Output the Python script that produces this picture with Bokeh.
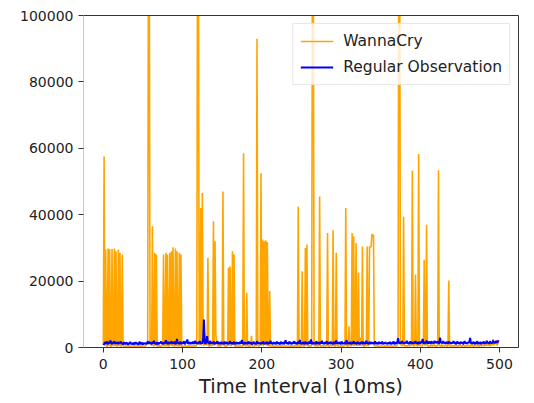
from bokeh.plotting import figure
from bokeh.models import Range1d, LinearAxis, FixedTicker, BasicTickFormatter, Legend, LegendItem
from bokeh.embed import file_html
from bokeh.resources import INLINE

# ---- data ----
wannacry = [
    800, 57500, 500, 29500, 400, 300, 29800, 500, 29600, 400, 300, 29700, 500, 600, 29800, 400, 29000, 300, 500, 29500,
    400, 28500, 300, 500, 28000, 600, 300, 200, 400, 500, 300, 200, 600, 400, 300, 500, 200, 400, 300, 600,
    400, 300, 500, 200, 400, 300, 600, 200, 300, 500, 400, 300, 200, 500, 600, 1200, 800, 130000, 115000, 1500,
    1000, 500, 36500, 800, 300, 28500, 500, 28000, 400, 300, 600, 200, 500, 300, 400, 600, 28000, 600, 400, 28500,
    300, 28000, 500, 400, 28500, 500, 29000, 400, 30200, 300, 500, 29800, 400, 29000, 300, 500, 28500, 300, 28000, 200,
    500, 300, 400, 600, 300, 200, 500, 400, 300, 600, 400, 200, 500, 300, 400, 600, 300, 500, 1500, 140000,
    120000, 1000, 800, 42000, 600, 46500, 2000, 500, 4000, 800, 3000, 600, 27000, 500, 400, 1000, 600, 500, 800, 38000,
    500, 32000, 4000, 2000, 600, 400, 1500, 300, 500, 600, 800, 47000, 1000, 500, 400, 300, 600, 500, 24000, 500,
    24500, 400, 1000, 29000, 600, 28000, 400, 300, 500, 600, 400, 300, 500, 200, 400, 600, 300, 58500, 500, 1000,
    300, 16500, 400, 600, 300, 500, 400, 3500, 600, 400, 300, 500, 1500, 400, 93000, 600, 500, 400, 800, 52500,
    600, 32500, 400, 32000, 1000, 32300, 500, 31800, 600, 400, 17000, 500, 300, 400, 600, 200, 500, 300, 400, 600,
    300, 500, 400, 200, 600, 300, 500, 400, 300, 200, 500, 600, 400, 300, 500, 200, 400, 600, 300, 500,
    400, 300, 600, 500, 300, 400, 42500, 400, 500, 200, 800, 23000, 400, 600, 300, 30000, 500, 31000, 400, 600,
    300, 500, 400, 800, 140000, 125000, 600, 500, 400, 2000, 300, 600, 500, 45500, 400, 300, 500, 600, 400, 300,
    500, 400, 600, 34500, 400, 300, 500, 800, 400, 600, 35300, 500, 400, 300, 28500, 500, 600, 400, 300, 500,
    400, 600, 300, 500, 400, 800, 42000, 500, 400, 300, 6400, 500, 600, 400, 34500, 500, 33500, 400, 2000, 31500,
    600, 500, 22500, 500, 800, 3000, 400, 30400, 500, 400, 500, 2000, 400, 30400, 500, 600, 30400, 30200, 30400, 34200,
    33500, 34000, 500, 400, 300, 600, 500, 200, 400, 300, 500, 600, 400, 300, 200, 500, 400, 600, 300, 500,
    400, 300, 500, 600, 200, 400, 300, 500, 600, 400, 300, 800, 1500, 140000, 130000, 2000, 600, 500, 800, 39400,
    500, 400, 600, 300, 500, 800, 400, 600, 500, 1000, 53200, 600, 400, 500, 22000, 800, 500, 400, 58300, 600,
    500, 800, 400, 600, 1500, 26400, 500, 800, 37000, 600, 400, 500, 300, 600, 800, 400, 500, 1200, 600, 400,
    500, 300, 800, 53400, 600, 500, 400, 1000, 300, 500, 600, 400, 800, 500, 300, 600, 20200, 500, 400, 300,
    600, 500, 400, 300, 800, 500, 400, 600, 300, 500, 1200, 400, 600, 300, 500, 800, 400, 300, 600, 500,
    400, 800, 500, 300, 600, 1500, 400, 500, 300, 600, 800, 400, 1000, 500, 300, 600, 1200, 400, 500, 800,
    600, 400, 1500, 500, 800, 1000, 600, 1200, 400, 800, 1500, 600, 2500, 800, 1000, 1800, 2000, 600, 1200, 1500,
]

regular = [
    1200, 900, 1600, 1100, 1800, 1300, 1000, 1700, 1200, 2100, 1400, 1000, 1600, 1300, 1900, 1100, 1500, 1200, 1700, 1000,
    1500, 1300, 1800, 1100, 1400, 900, 1600, 1200, 1000, 1500, 1300, 800, 1400, 1100, 1700, 1000, 1300, 900, 1500, 1200,
    1000, 1600, 1100, 1400, 800, 1300, 1700, 1000, 1200, 1500, 900, 1400, 1100, 1300, 1000, 1600, 1200, 1900, 1100, 1500,
    1300, 1000, 1700, 1200, 2000, 1100, 1400, 900, 1600, 1200, 1000, 1500, 1300, 1800, 1100, 1400, 1000, 1600, 1200, 2200,
    1400, 1100, 1700, 1000, 1500, 1300, 1900, 1100, 1600, 1200, 1800, 1000, 1400, 2600, 1200, 1500, 1000, 1700, 1300, 1100,
    1600, 1200, 1900, 1000, 1400, 1700, 2400, 1100, 1300, 1600, 1000, 1500, 1200, 1800, 1100, 1400, 2000, 1200, 1500, 1000,
    1700, 1300, 1900, 1100, 1500, 1200, 2500, 8400, 1400, 1100, 1800, 3400, 1300, 1600, 1000, 2000, 1200, 1500, 1100, 1800,
    1300, 1000, 1600, 1200, 1900, 1100, 1500, 1300, 1000, 1700, 1200, 1400, 1000, 1800, 1100, 1300, 1600, 1000, 1400, 1200,
    1900, 1100, 1500, 1000, 1300, 1700, 1200, 1000, 1600, 1300, 1100, 1500, 1000, 1800, 1200, 2300, 1100, 1400, 1000, 1600,
    1200, 1500, 1000, 1800, 1300, 1100, 1600, 1200, 1000, 1400, 1700, 1100, 1300, 1000, 1900, 1200, 1500, 1100, 1400, 1000,
    1600, 1200, 1800, 1000, 1400, 1100, 1700, 1300, 1000, 1500, 1200, 2000, 1100, 1400, 1000, 1600, 1200, 1300, 1000, 1800,
    1100, 1500, 1200, 1000, 1700, 1300, 1100, 1600, 1000, 1400, 2200, 1200, 1500, 1000, 1300, 1800, 1100, 1400, 1000, 1600,
    1200, 1900, 1100, 1500, 1000, 1300, 1700, 1200, 2300, 1000, 1400, 1100, 1600, 1300, 1000, 1800, 1200, 1500, 1000, 1400,
    1700, 1100, 2400, 1300, 1000, 1600, 1200, 1400, 1000, 1900, 1100, 1500, 1300, 1000, 1700, 1200, 2000, 1100, 1400, 1000,
    1600, 1200, 1900, 1000, 1300, 1500, 1100, 1800, 1200, 1400, 1000, 1700, 1300, 1100, 2100, 1200, 1500, 1000, 1600, 1300,
    1000, 1800, 1100, 1400, 1200, 1600, 1000, 2200, 1300, 1100, 1500, 1200, 1700, 1000, 1400, 1200, 1900, 1100, 1500, 1000,
    1300, 1700, 1100, 1400, 1000, 1600, 1200, 1800, 1000, 1500, 1300, 1100, 2000, 1200, 1400, 1000, 1700, 1300, 1100, 1600,
    1200, 1500, 1000, 1900, 1100, 1400, 1300, 1000, 1700, 1200, 1500, 1100, 1800, 1000, 1400, 1200, 1600, 1100, 1300, 1000,
    1500, 1200, 1700, 1000, 1400, 1100, 1800, 1300, 1000, 1600, 1200, 1400, 2800, 1500, 1100, 1700, 1200, 1900, 1300, 1500,
    1100, 1600, 1300, 2000, 1200, 1500, 1000, 1800, 1400, 1200, 1700, 1100, 1600, 1300, 1900, 1200, 1500, 1000, 1700, 1400,
    1200, 1800, 1300, 2600, 1500, 1100, 1700, 1300, 2100, 1400, 1200, 1800, 1500, 1100, 1900, 1300, 1600, 1200, 2000, 1400,
    1700, 1300, 1800, 1500, 1200, 3000, 1400, 1600, 1200, 1900, 1300, 1500, 1100, 1700, 1400, 1200, 1800, 1300, 1600, 1100,
    1500, 1300, 1900, 1200, 1600, 1000, 1400, 1800, 1200, 1500, 1100, 1700, 1300, 1600, 1000, 1400, 1900, 1200, 1500, 1100,
    1600, 1300, 1800, 2900, 1200, 1500, 1100, 1700, 1300, 1000, 1600, 1200, 1900, 1100, 1400, 1200, 1700, 1000, 1500, 1300,
    1800, 1100, 1600, 1200, 2000, 1300, 1500, 1100, 1900, 1300, 1600, 1200, 2100, 1400, 1700, 1300, 2000, 1500, 1800, 2200,
]

time_interval = list(range(len(wannacry)))
x_ticks = [0, 100, 200, 300, 400, 500]
y_ticks = [0, 20000, 40000, 60000, 80000, 100000]
series_names = ["WannaCry", "Regular Observation"]

FONT = "DejaVu Sans"

p = figure(width=526, height=400, output_backend="svg", toolbar_location=None,
           x_range=Range1d(-25, 524), y_range=Range1d(0, 100000),
           min_border_left=83, min_border_right=8, min_border_top=15, min_border_bottom=52,
           outline_line_color=None, background_fill_color="white", border_fill_color="white")
p.grid.visible = False

r1 = p.line(time_interval, wannacry, line_color="#FFA500", line_width=1.6)
r2 = p.line(time_interval, regular, line_color="#0000FF", line_width=2)

for ax in (p.xaxis[0], p.yaxis[0]):
    ax.major_label_text_font = FONT
    ax.major_label_text_font_size = "14px"
    ax.major_label_text_color = "#222222"
    ax.major_tick_out = 5
    ax.major_tick_in = 0
    ax.minor_tick_line_color = None
    ax.major_tick_line_color = "#333333"
    ax.formatter = BasicTickFormatter(use_scientific=False)

p.xaxis[0].ticker = FixedTicker(ticks=x_ticks)
p.yaxis[0].ticker = FixedTicker(ticks=y_ticks)
p.xaxis[0].axis_line_color = "#333333"
p.yaxis[0].axis_line_color = "#c8c8c8"
p.xaxis[0].major_label_standoff = 6
p.yaxis[0].major_label_standoff = 5
p.xaxis[0].axis_label = "Time Interval (10ms)"
p.xaxis[0].axis_label_text_font = FONT
p.xaxis[0].axis_label_text_font_size = "19.5px"
p.xaxis[0].axis_label_text_font_style = "normal"
p.xaxis[0].axis_label_text_color = "#222222"
p.xaxis[0].axis_label_standoff = 3

for loc in ("above", "right"):
    a = LinearAxis(ticker=FixedTicker(ticks=[]), major_tick_line_color=None,
                   minor_tick_line_color=None, major_label_standoff=0,
                   major_tick_out=0, major_tick_in=0, axis_line_color="#333333")
    p.add_layout(a, loc)

legend = Legend(items=[LegendItem(label=series_names[0], renderers=[r1]),
                       LegendItem(label=series_names[1], renderers=[r2])],
                location="top_right", margin=8, padding=7, spacing=6,
                glyph_width=33, glyph_height=20, label_height=20, label_standoff=10,
                label_text_font=FONT, label_text_font_size="15.5px", label_text_color="#222222",
                border_line_color="#d0d0d0", background_fill_alpha=0.8)
p.add_layout(legend)

open("out.html", "w").write(file_html(p, INLINE))
